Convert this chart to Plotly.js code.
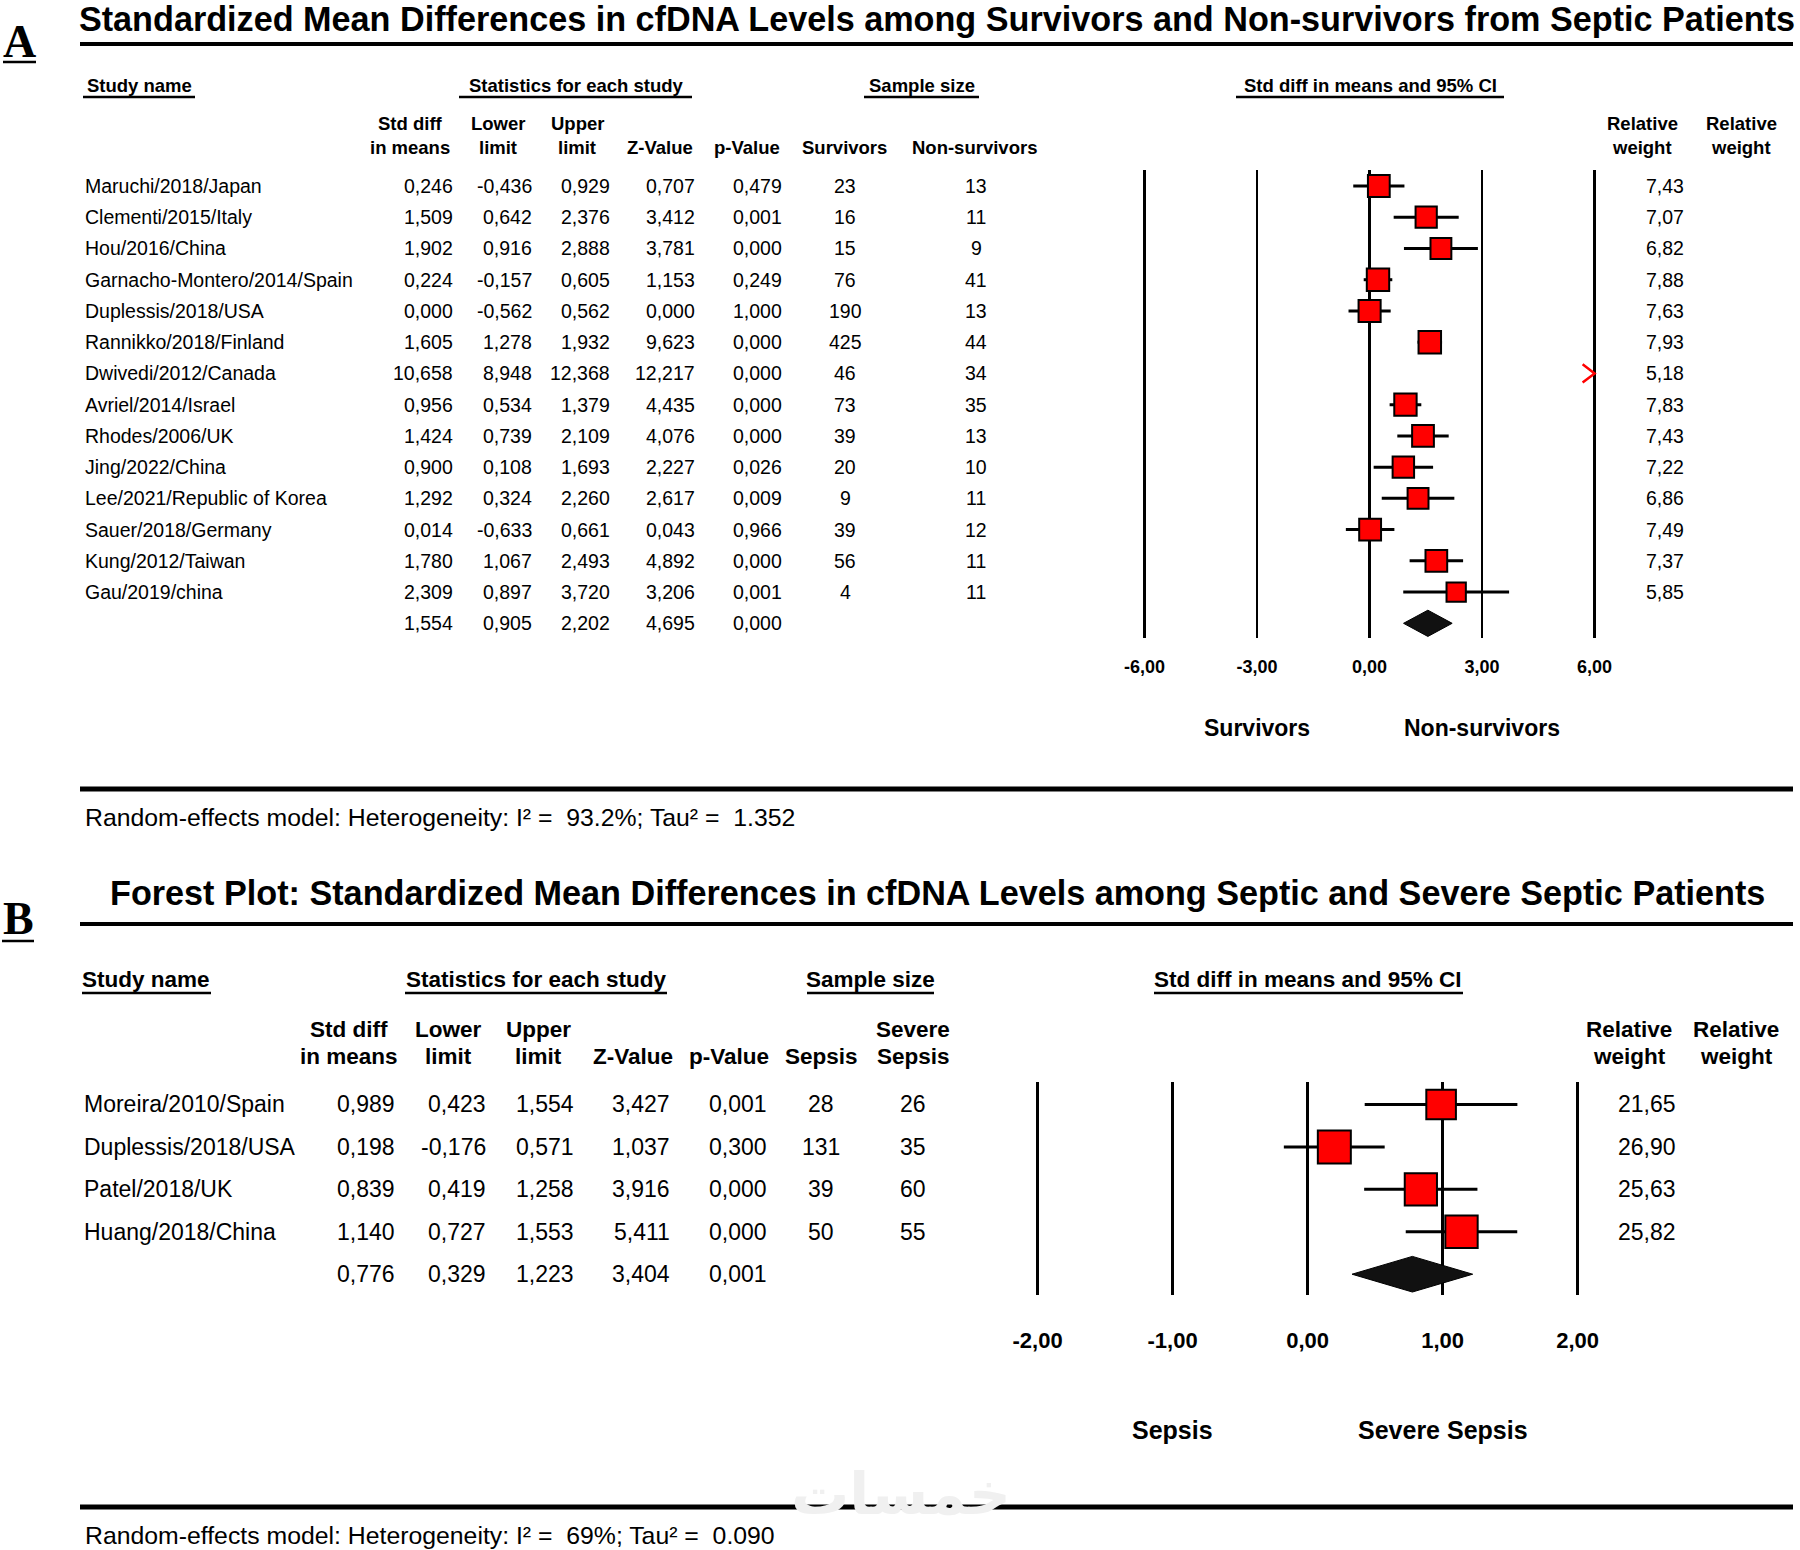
<!DOCTYPE html>
<html><head><meta charset="utf-8">
<script src="https://cdn.plot.ly/plotly-3.0.1.min.js"></script>
<style>html,body{margin:0;padding:0;background:#fff}</style>
</head><body><div id="chart" style="width:1800px;height:1550px"></div>
<script>
// ---------- Panel A data ----------
const titleA = "Standardized Mean Differences in cfDNA Levels among Survivors and Non-survivors from Septic Patients";
const studiesA = ["Maruchi/2018/Japan","Clementi/2015/Italy","Hou/2016/China","Garnacho-Montero/2014/Spain","Duplessis/2018/USA","Rannikko/2018/Finland","Dwivedi/2012/Canada","Avriel/2014/Israel","Rhodes/2006/UK","Jing/2022/China","Lee/2021/Republic of Korea","Sauer/2018/Germany","Kung/2012/Taiwan","Gau/2019/china"];
const smdA = [0.246,1.509,1.902,0.224,0.000,1.605,10.658,0.956,1.424,0.900,1.292,0.014,1.780,2.309];
const lowerA = [-0.436,0.642,0.916,-0.157,-0.562,1.278,8.948,0.534,0.739,0.108,0.324,-0.633,1.067,0.897];
const upperA = [0.929,2.376,2.888,0.605,0.562,1.932,12.368,1.379,2.109,1.693,2.260,0.661,2.493,3.720];
const zA = [0.707,3.412,3.781,1.153,0.000,9.623,12.217,4.435,4.076,2.227,2.617,0.043,4.892,3.206];
const pA = [0.479,0.001,0.000,0.249,1.000,0.000,0.000,0.000,0.000,0.026,0.009,0.966,0.000,0.001];
const group1A = [23,16,15,76,190,425,46,73,39,20,9,39,56,4];
const group2A = [13,11,9,41,13,44,34,35,13,10,11,12,11,11];
const weightA = [7.43,7.07,6.82,7.88,7.63,7.93,5.18,7.83,7.43,7.22,6.86,7.49,7.37,5.85];
const summaryA = [1.554,0.905,2.202,4.695,0.000];
const tickValsA = [-6,-3,0,3,6];
const tickTextA = ["-6,00","-3,00","0,00","3,00","6,00"];
const sideLabelsA = ["Survivors","Non-survivors"];
const subHeadA = [["Std diff","in means"],["Lower","limit"],["Upper","limit"],["","Z-Value"],["","p-Value"],["","Survivors"],["","Non-survivors"],["Relative","weight"],["Relative","weight"]];
const hetA = "Random-effects model: Heterogeneity: I\u00b2 =\u00a0 93.2%; Tau\u00b2 =\u00a0 1.352";

// ---------- Panel B data ----------
const titleB = "Forest Plot: Standardized Mean Differences in cfDNA Levels among Septic and Severe Septic Patients";
const studiesB = ["Moreira/2010/Spain","Duplessis/2018/USA","Patel/2018/UK","Huang/2018/China"];
const smdB = [0.989,0.198,0.839,1.140];
const lowerB = [0.423,-0.176,0.419,0.727];
const upperB = [1.554,0.571,1.258,1.553];
const zB = [3.427,1.037,3.916,5.411];
const pB = [0.001,0.300,0.000,0.000];
const group1B = [28,131,39,50];
const group2B = [26,35,60,55];
const weightB = [21.65,26.90,25.63,25.82];
const summaryB = [0.776,0.329,1.223,3.404,0.001];
const tickValsB = [-2,-1,0,1,2];
const tickTextB = ["-2,00","-1,00","0,00","1,00","2,00"];
const sideLabelsB = ["Sepsis","Severe Sepsis"];
const subHeadB = [["Std diff","in means"],["Lower","limit"],["Upper","limit"],["","Z-Value"],["","p-Value"],["","Sepsis"],["Severe","Sepsis"],["Relative","weight"],["Relative","weight"]];
const hetB = "Random-effects model: Heterogeneity: I\u00b2 =\u00a0 69%; Tau\u00b2 =\u00a0 0.090";

const sectionHeads = ["Study name","Statistics for each study","Sample size","Std diff in means and 95% CI"];

// ---------- helpers ----------
const W = 1800, H = 1550;
const FONT = "Liberation Sans, Arial, Helvetica, sans-serif";
const SERIF = "Liberation Serif, Times New Roman, serif";
const X = px => px / W;
const Y = py => 1 - py / H;
const f3 = v => v.toFixed(3).replace('.', ',');
const f2 = v => v.toFixed(2).replace('.', ',');

const traces = [], ann = [], shapes = [];

function text(t, x, y, o) {
  o = o || {};
  ann.push({
    text: t, x: o.xref && o.xref !== 'paper' ? x : X(x),
    y: o.yref && o.yref !== 'paper' ? y : Y(y),
    xref: o.xref || 'paper', yref: o.yref || 'paper',
    xanchor: o.xanchor || 'left', yanchor: 'middle', showarrow: false,
    font: {family: o.family || FONT, size: o.size || 20, color: o.color || '#000', weight: o.bold ? 700 : 400}
  });
}
function hline(x0, x1, y, w) {
  shapes.push({type: 'line', xref: 'paper', yref: 'paper', x0: X(x0), x1: X(x1), y0: Y(y), y1: Y(y), line: {color: '#000', width: w}});
}

function panel(P) {
  const d = P.data;
  const n = d.studies.length;
  text(P.letter, P.letterX, P.letterY, {family: SERIF, size: P.letterSize, bold: true, xanchor: 'center'});
  hline(P.letterLine[0], P.letterLine[1], P.letterLine[2], 2.5);
  hline(80, 1793, P.titleLineY, 4);
  hline(80, 1793, P.bottomLineY, 5);
  text(d.het, 83, P.hetY, {size: P.hetSize});
  sectionHeads.forEach((h, k) => {
    text(h, P.headX[k], P.headY, {size: P.headSize, bold: true, xanchor: 'center'});
    hline(P.headLine[k][0], P.headLine[k][1], P.headLineY, 2.5);
  });
  d.subHead.forEach((pair, k) => {
    if (pair[0]) text(pair[0], P.subX[k], P.subY[0], {size: P.headSize, bold: true, xanchor: 'center'});
    text(pair[1], P.subX[k], P.subY[1], {size: P.headSize, bold: true, xanchor: 'center'});
  });
  const yr = P.ya;
  for (let i = 0; i <= n; i++) {
    const isSum = i === n;
    const vals = isSum ? d.summary : [d.smd[i], d.lower[i], d.upper[i], d.z[i], d.p[i]];
    if (!isSum) text(d.studies[i], P.nameX, i, {yref: yr, size: P.rowSize});
    vals.forEach((v, k) => text(f3(v), P.colRight[k], i, {yref: yr, size: P.rowSize, xanchor: 'right'}));
    if (!isSum) {
      text(String(d.g1[i]), P.nCenter[0], i, {yref: yr, size: P.rowSize, xanchor: 'center'});
      text(String(d.g2[i]), P.nCenter[1], i, {yref: yr, size: P.rowSize, xanchor: 'center'});
      text(f2(d.weight[i]), P.wRight, i, {yref: yr, size: P.rowSize, xanchor: 'right'});
    }
  }
  const xmax = d.tickVals[d.tickVals.length - 1];
  const wx = [], wy = [], sx = [], sy = [], ss = [], cx = [], cy = [];
  const maxW = Math.max.apply(null, d.weight);
  for (let i = 0; i < n; i++) {
    if (d.lower[i] > xmax) {
      cx.push(xmax - P.chevW, xmax, xmax - P.chevW, null);
      cy.push(i - P.chevH, i, i + P.chevH, null);
      continue;
    }
    wx.push(d.lower[i], d.upper[i], null); wy.push(i, i, null);
    sx.push(d.smd[i]); sy.push(i); ss.push(P.maxSq * Math.sqrt(d.weight[i] / maxW));
  }
  const xa = P.xa, yaName = P.ya;
  traces.push({type: 'scatter', mode: 'lines', x: wx, y: wy, xaxis: xa, yaxis: yaName, line: {color: '#000', width: 3}, hoverinfo: 'skip', showlegend: false, cliponaxis: false});
  traces.push({type: 'scatter', mode: 'markers', x: sx, y: sy, xaxis: xa, yaxis: yaName,
    marker: {symbol: 'square', size: ss, color: '#ff0000', opacity: 1, line: {color: '#000', width: 2}}, showlegend: false, cliponaxis: false});
  if (cx.length) traces.push({type: 'scatter', mode: 'lines', x: cx, y: cy, xaxis: xa, yaxis: yaName, line: {color: '#ff0000', width: 2.5}, showlegend: false, cliponaxis: false});
  const s = d.summary, h = P.diamondH;
  traces.push({type: 'scatter', mode: 'lines', x: [s[1], s[0], s[2], s[0], s[1]], y: [n, n - h, n, n + h, n],
    xaxis: xa, yaxis: yaName, fill: 'toself', fillcolor: '#111', line: {color: '#000', width: 1}, showlegend: false, cliponaxis: false});
  text(d.side[0], d.tickVals[1], P.sideY, {xref: xa, size: P.sideSize, bold: true, xanchor: 'center'});
  text(d.side[1], d.tickVals[3], P.sideY, {xref: xa, size: P.sideSize, bold: true, xanchor: 'center'});
}

const A = {
  data: {studies: studiesA, smd: smdA, lower: lowerA, upper: upperA, z: zA, p: pA, g1: group1A, g2: group2A, weight: weightA, summary: summaryA, tickVals: tickValsA, side: sideLabelsA, subHead: subHeadA, het: hetA},
  xa: 'x', ya: 'y', letter: 'A', letterX: 19, letterY: 41, letterSize: 46, letterLine: [3, 36, 62],
  titleLineY: 44, bottomLineY: 789, hetY: 817, hetSize: 24.8,
  headX: [139, 576, 922, 1370], headY: 86, headSize: 18.5, headLineY: 97,
  headLine: [[83, 195], [459, 692], [864, 979], [1236, 1504]],
  subX: [410, 498, 577, 660, 747, 844, 975, 1642, 1741], subY: [124, 147],
  nameX: 83, colRight: [455, 534, 612, 697, 784], nCenter: [845, 976], wRight: 1686, rowSize: 19.5,
  maxSq: 22.5, chevW: 0.32, chevH: 0.29, diamondH: 0.42, sideY: 728, sideSize: 23
};
const B = {
  data: {studies: studiesB, smd: smdB, lower: lowerB, upper: upperB, z: zB, p: pB, g1: group1B, g2: group2B, weight: weightB, summary: summaryB, tickVals: tickValsB, side: sideLabelsB, subHead: subHeadB, het: hetB},
  xa: 'x2', ya: 'y2', letter: 'B', letterX: 18, letterY: 918, letterSize: 46, letterLine: [2, 34, 941],
  titleLineY: 924, bottomLineY: 1507, hetY: 1535, hetSize: 24.8,
  headX: [146, 536, 870, 1308], headY: 980, headSize: 22.5, headLineY: 993,
  headLine: [[82, 211], [405, 667], [807, 934], [1154, 1463]],
  subX: [349, 448, 538, 633, 729, 821, 913, 1629, 1736], subY: [1029, 1056],
  nameX: 82, colRight: [397, 488, 576, 672, 769], nCenter: [821, 913], wRight: 1678, rowSize: 23,
  maxSq: 33, chevW: 0.1, chevH: 0.29, diamondH: 0.42, sideY: 1430, sideSize: 25
};
panel(A);
panel(B);

text(titleB, 937, 893, {size: 34.2, bold: true, xanchor: 'center'});
text("\u062e\u0645\u0633\u0627\u062a", 901, 1494, {size: 58, color: '#f0f0f0', xanchor: 'center', family: 'DejaVu Sans, Noto Sans, sans-serif', bold: true});

function xAxis(tv, tt, range, dom, fs, standoff) {
  return {domain: [X(dom[0]), X(dom[1])], range: range, tickvals: tv, ticktext: tt,
    showgrid: true, gridcolor: '#000', gridwidth: 2.5, zeroline: false, showline: false, ticks: '',
    tickfont: {family: FONT, size: fs, color: '#000', weight: 700}, ticklabelstandoff: standoff, fixedrange: true};
}
const layout = {
  width: W, height: H, margin: {l: 0, r: 0, t: 0, b: 0}, paper_bgcolor: '#fff', plot_bgcolor: 'rgba(0,0,0,0)',
  showlegend: false,
  title: {text: titleA, x: X(937), xanchor: 'center', y: Y(19), yanchor: 'middle', xref: 'paper', yref: 'paper',
    font: {family: FONT, size: 34.2, color: '#000', weight: 700}},
  xaxis: Object.assign(xAxis(tickValsA, tickTextA, [-6.5, 6.5], [1369.6 - 243.75, 1369.6 + 243.75], 18, 16), {anchor: 'y'}),
  yaxis: {domain: [Y(638), Y(170)], range: [14.47, -0.512], visible: false, fixedrange: true, anchor: 'x'},
  xaxis2: Object.assign(xAxis(tickValsB, tickTextB, [-2.2, 2.2], [1307.6 - 297, 1307.6 + 297], 22, 30), {anchor: 'y2'}),
  yaxis2: {domain: [Y(1295), Y(1082)], range: [4.49, -0.53], visible: false, fixedrange: true, anchor: 'x2'},
  annotations: ann, shapes: shapes
};
Plotly.newPlot('chart', traces, layout, {displayModeBar: false, staticPlot: true});
</script>
</body></html>
